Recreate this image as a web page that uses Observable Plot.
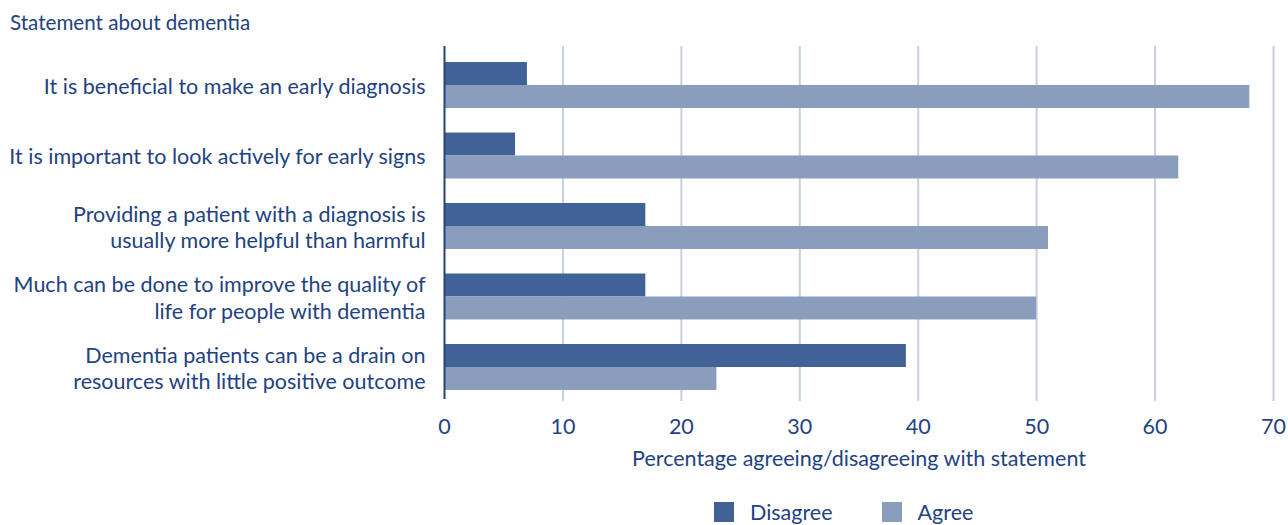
<!DOCTYPE html>
<html>
<head>
<meta charset="utf-8">
<script src="https://cdn.jsdelivr.net/npm/d3@7"></script>
<script src="https://cdn.jsdelivr.net/npm/@observablehq/plot@0.6"></script>
<style>
  html, body { margin: 0; padding: 0; background: #fff; }
  #wrap { position: relative; width: 1288px; height: 525px; overflow: hidden; font-family: Lato, sans-serif; color: #23427f; }
  #title { position: absolute; left: 10px; top: 10px; font-size: 20.6px; line-height: 24px; }
  #chart { position: absolute; left: 0; top: 0; }
  #legend { position: absolute; left: 714px; top: 501px; display: flex; align-items: center; font-size: 21.5px; line-height: 22px; }
  #legend .item { display: flex; align-items: center; margin-right: 49px; }
  #legend .sw { width: 20px; height: 20px; margin-right: 16px; }
</style>
</head>
<body>
<div id="wrap">
  <div id="chart"></div>
  <div id="title"></div>
  <div id="legend"></div>
</div>
<script>
const titleText = "Statement about dementia";
const xLabel = "Percentage agreeing/disagreeing with statement";
const statements = [
  "It is beneficial to make an early diagnosis",
  "It is important to look actively for early signs",
  "Providing a patient with a diagnosis is\nusually more helpful than harmful",
  "Much can be done to improve the quality of\nlife for people with dementia",
  "Dementia patients can be a drain on\nresources with little positive outcome"
];
const series = ["Disagree", "Agree"];
const disagree = [7, 6, 17, 17, 39];
const agree = [68, 62, 51, 50, 23];
const xTicks = [0, 10, 20, 30, 40, 50, 60, 70];
const colors = ["#416296", "#8a9dbd"];

const textColor = "#23427f";
const disagreeRows = statements.map((s, i) => ({statement: s, series: series[0], value: disagree[i]}));
const agreeRows = statements.map((s, i) => ({statement: s, series: series[1], value: agree[i]}));

document.getElementById("title").textContent = titleText;

function makePlot(half) {
  return Plot.plot({
    width: 1288,
    height: 485,
    marginTop: 46,
    marginBottom: 86,
    marginLeft: 444,
    marginRight: 15,
    style: {fontFamily: "Lato, sans-serif", color: textColor, background: "transparent"},
    x: {domain: [0, 70], ticks: xTicks},
    y: {domain: statements, paddingInner: 0.348, paddingOuter: 0.128, insetTop: 7, round: false, label: null},
    color: {domain: series, range: colors},
    marks: [
      Plot.ruleX(xTicks.filter(d => d > 0), {stroke: "#c6d0e1", strokeWidth: 2, insetBottom: -2}),
      Plot.barX(disagreeRows, {y: "statement", x: "value", fill: "series", insetBottom: half}),
      Plot.barX(agreeRows, {y: "statement", x: "value", fill: "series", insetTop: half}),
      Plot.ruleX([0], {stroke: textColor, strokeWidth: 2}),
      Plot.axisY({tickSize: 0, tickPadding: 19, fontSize: 21.5, lineHeight: 1.23, label: null, fill: textColor}),
      Plot.axisX(xTicks, {tickSize: 0, tickPadding: 19, fontSize: 21.5, label: null, fill: textColor}),
      Plot.text([xLabel], {text: d => d, frameAnchor: "bottom", lineAnchor: "top", dy: 51, fontSize: 21.5, fill: textColor})
    ]
  });
}

const probe = makePlot(0);
const bw = probe.scale("y").bandwidth;
const plot = makePlot(bw / 2);
document.getElementById("chart").appendChild(plot);

const legend = document.getElementById("legend");
series.forEach((s, i) => {
  const item = document.createElement("div");
  item.className = "item";
  const sw = document.createElement("div");
  sw.className = "sw";
  sw.style.background = colors[i];
  const t = document.createElement("span");
  t.textContent = s;
  item.appendChild(sw);
  item.appendChild(t);
  legend.appendChild(item);
});
</script>
</body>
</html>
